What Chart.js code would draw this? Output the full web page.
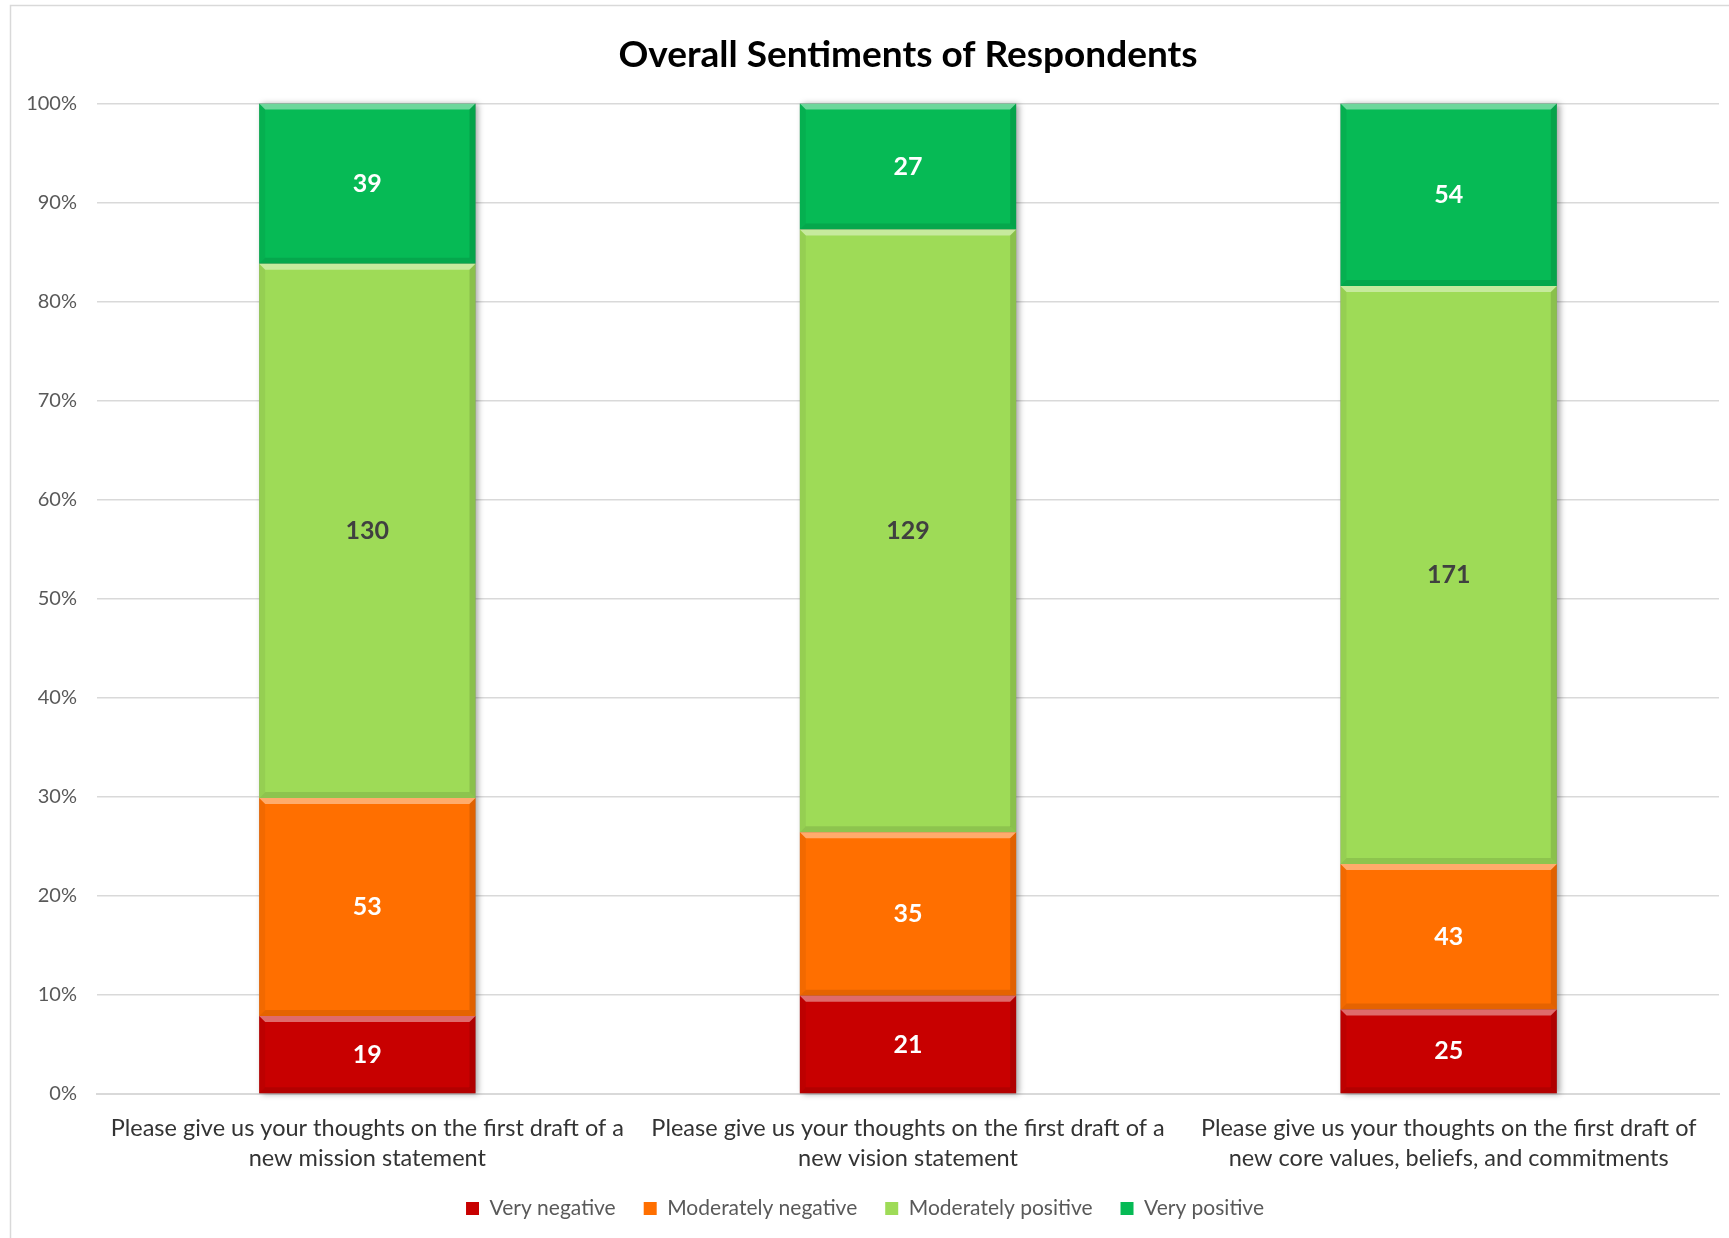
<!DOCTYPE html>
<html>
<head>
<meta charset="utf-8">
<script src="https://cdn.jsdelivr.net/npm/chart.js@4.4.1/dist/chart.umd.min.js"></script>
<style>
html,body{margin:0;padding:0;background:#fff;}
#wrap{width:1729px;height:1238px;position:relative;}
canvas{display:block;}
</style>
</head>
<body>
<div id="wrap"><canvas id="c" width="1729" height="1238"></canvas></div>
<script>
// ---- data ----
const categories = [
  ["Please give us your thoughts on the first draft of a", "new mission statement"],
  ["Please give us your thoughts on the first draft of a", "new vision statement"],
  ["Please give us your thoughts on the first draft of", "new core values, beliefs, and commitments"]
];
const seriesNames = ["Very negative", "Moderately negative", "Moderately positive", "Very positive"];
const veryNegative = [19, 21, 25];
const moderatelyNegative = [53, 35, 43];
const moderatelyPositive = [130, 129, 171];
const veryPositive = [39, 27, 54];
const yTickValues = [0, 10, 20, 30, 40, 50, 60, 70, 80, 90, 100];
const chartTitle = "Overall Sentiments of Respondents";

// ---- styles ----
const FONT = "Lato, 'Open Sans', 'Liberation Sans', sans-serif";
const seriesColors = ["#C80000", "#FF6F00", "#9EDB57", "#06BA55"];
const labelColors = ["#ffffff", "#ffffff", "#404040", "#ffffff"];

const counts = [veryNegative, moderatelyNegative, moderatelyPositive, veryPositive];
const totals = categories.map((_, i) => counts.reduce((s, arr) => s + arr[i], 0));
const pct = arr => arr.map((v, i) => v / totals[i] * 100);

const datasets = counts.map((arr, k) => ({
  label: seriesNames[k],
  data: pct(arr),
  counts: arr,
  backgroundColor: seriesColors[k],
  borderWidth: 0,
  stack: "s",
  categoryPercentage: 1.0,
  barPercentage: 0.4
}));

function poly(ctx, pts, color) {
  ctx.beginPath();
  ctx.moveTo(pts[0][0], pts[0][1]);
  for (let i = 1; i < pts.length; i++) ctx.lineTo(pts[i][0], pts[i][1]);
  ctx.closePath();
  ctx.fillStyle = color;
  ctx.fill();
}

const framePlugin = {
  id: "frame",
  beforeDraw(chart) {
    const ctx = chart.ctx;
    ctx.save();
    ctx.fillStyle = "#ffffff";
    ctx.fillRect(0, 0, chart.width, chart.height);
    ctx.strokeStyle = "#d9d9d9";
    ctx.lineWidth = 1.5;
    ctx.strokeRect(10.5, 5.5, chart.width + 20, chart.height + 20);
    ctx.restore();
  }
};

const shadowPlugin = {
  id: "barShadow",
  beforeDatasetsDraw(chart) {
    const ctx = chart.ctx;
    const first = chart.getDatasetMeta(0).data;
    const last = chart.getDatasetMeta(chart.data.datasets.length - 1).data;
    ctx.save();
    first.forEach((el, i) => {
      const a = el.getProps(["x", "base", "width"], true);
      const b = last[i].getProps(["y"], true);
      ctx.shadowColor = "rgba(0,0,0,0.35)";
      ctx.shadowBlur = 6;
      ctx.shadowOffsetX = 3;
      ctx.shadowOffsetY = 1;
      ctx.fillStyle = "#888";
      ctx.fillRect(a.x - a.width / 2, b.y, a.width, a.base - b.y);
    });
    ctx.restore();
  }
};

const bevelPlugin = {
  id: "bevel",
  afterDatasetsDraw(chart) {
    const ctx = chart.ctx;
    ctx.save();
    chart.data.datasets.forEach((ds, di) => {
      const meta = chart.getDatasetMeta(di);
      if (meta.hidden) return;
      meta.data.forEach((el, i) => {
        const p = el.getProps(["x", "y", "base", "width"], true);
        const l = p.x - p.width / 2, r = p.x + p.width / 2;
        const t = Math.min(p.y, p.base), b = Math.max(p.y, p.base);
        const s = Math.min(6, (b - t) / 2);
        poly(ctx, [[l, t], [r, t], [r - s, t + s], [l + s, t + s]], "rgba(255,255,255,0.42)");
        poly(ctx, [[l, b], [r, b], [r - s, b - s], [l + s, b - s]], "rgba(0,0,0,0.10)");
        poly(ctx, [[r, t], [r, b], [r - s, b - s], [r - s, t + s]], "rgba(0,0,0,0.12)");
        poly(ctx, [[l, t], [l, b], [l + s, b - s], [l + s, t + s]], "rgba(0,0,0,0.05)");
        // value label
        ctx.font = "bold 25px " + FONT;
        ctx.fillStyle = labelColors[di];
        ctx.textAlign = "center";
        ctx.textBaseline = "middle";
        ctx.fillText(String(ds.counts[i]), p.x, (t + b) / 2);
      });
    });
    ctx.restore();
  }
};

new Chart(document.getElementById("c"), {
  type: "bar",
  data: { labels: categories, datasets: datasets },
  plugins: [framePlugin, shadowPlugin, bevelPlugin],
  options: {
    responsive: false,
    animation: false,
    devicePixelRatio: 1,
    layout: { padding: { left: 11, right: 10, top: 6, bottom: 9 } },
    plugins: {
      title: {
        display: true,
        text: chartTitle,
        fullSize: false,
        color: "#000000",
        font: { family: FONT, size: 37, weight: "bold", lineHeight: 1.2 },
        padding: { top: 27, bottom: 26 }
      },
      legend: {
        display: true,
        position: "bottom",
        labels: {
          color: "#595959",
          font: { family: FONT, size: 21 },
          boxWidth: 13,
          boxHeight: 13,
          padding: 28
        }
      },
      tooltip: { enabled: false }
    },
    scales: {
      x: {
        stacked: true,
        grid: { display: false, drawTicks: false },
        border: { display: true, color: "#d9d9d9", width: 2 },
        ticks: {
          color: "#333333",
          font: { family: FONT, size: 23.5, lineHeight: 1.3 },
          padding: 19,
          maxRotation: 0,
          autoSkip: false
        },
        afterFit(s) { s.height = 76; }
      },
      y: {
        stacked: true,
        min: 0,
        max: 100,
        afterBuildTicks(s) { s.ticks = yTickValues.map(v => ({ value: v })); },
        grid: { color: "#d9d9d9", lineWidth: 1.5, drawTicks: false },
        border: { display: false },
        ticks: {
          color: "#595959",
          font: { family: FONT, size: 20 },
          padding: 20,
          callback: v => v + "%"
        },
        afterFit(s) { s.width = 86; }
      }
    }
  }
});
</script>
</body>
</html>
